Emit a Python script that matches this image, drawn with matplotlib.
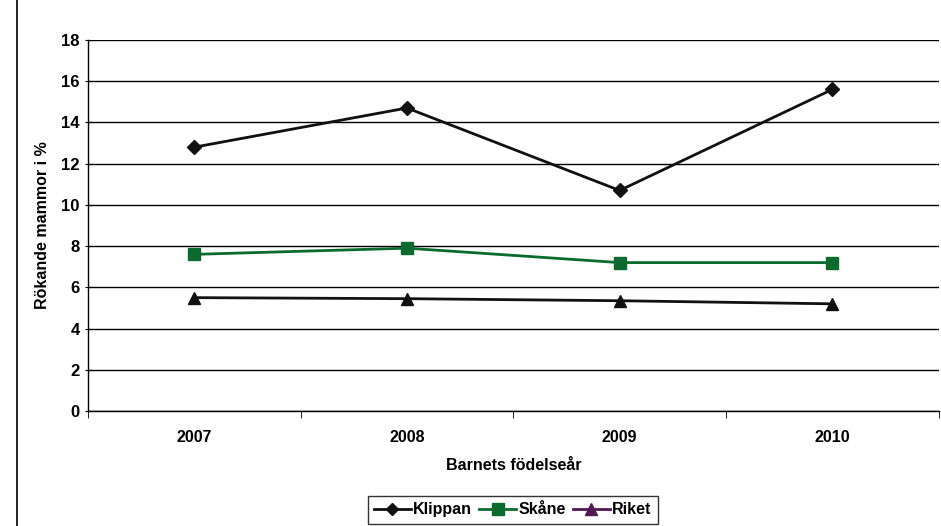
import matplotlib
matplotlib.use('Agg')
import matplotlib.pyplot as plt
from matplotlib.lines import Line2D
from matplotlib.patches import Rectangle

plt.rcParams['font.family'] = ['Liberation Sans', 'DejaVu Sans']
plt.rcParams['font.weight'] = 'bold'

years = ['2007', '2008', '2009', '2010']
klippan = [12.8, 14.7, 10.7, 15.6]
skane = [7.6, 7.9, 7.2, 7.2]
riket = [5.5, 5.45, 5.35, 5.2]

fig = plt.figure(figsize=(9.41, 5.26), dpi=100)
ax = fig.add_axes([0.0935, 0.2186, 0.904, 0.7054])

x = list(range(len(years)))
ax.plot(x, klippan, color='#111111', lw=2, marker='D', ms=7, zorder=3)
ax.plot(x, skane, color='#0b6b2e', lw=2, marker='s', ms=9, zorder=3)
ax.plot(x, riket, color='#111111', lw=2, marker='^', ms=9, zorder=3)

ax.set_xlim(-0.5, 3.5)
ax.set_ylim(0, 18)
ax.set_yticks(range(0, 19, 2))
ax.set_xticks(x)
ax.set_xticklabels(years)
ax.set_xticks([i + 0.5 for i in range(-1, 4)], minor=True)
ax.tick_params(axis='x', which='major', length=0, pad=14, labelsize=11.5)
ax.tick_params(axis='x', which='minor', length=5, direction='out', color='black')
ax.tick_params(axis='y', length=5, direction='inout', labelsize=12)
ax.grid(axis='y', color='black', lw=1)
ax.set_axisbelow(True)
for s in ['top', 'right']:
    ax.spines[s].set_visible(False)
ax.spines['left'].set_linewidth(1)
ax.spines['bottom'].set_linewidth(1)

ax.set_xlabel('Barnets födelseår', fontsize=11.5, fontweight='bold', labelpad=9)
ax.set_ylabel('Rökande mammor i %', fontsize=11.5, fontweight='bold', labelpad=8)

handles = [
    Line2D([0], [0], color='#111111', lw=2, marker='D', ms=6, label='Klippan'),
    Line2D([0], [0], color='#0b6b2e', lw=2, marker='s', ms=8, label='Skåne'),
    Line2D([0], [0], color='#4f1a52', lw=2, marker='^', ms=8, label='Riket'),
]
leg = fig.legend(handles=handles, loc='upper center', ncol=3,
                 frameon=True, fancybox=False, edgecolor='black', fontsize=11.5,
                 handlelength=2.3, handletextpad=0.15, columnspacing=0.45,
                 borderpad=0.4, borderaxespad=0)
leg.set_bbox_to_anchor((0.545, 1 - 496 / 526), transform=fig.transFigure)
leg.get_frame().set_linewidth(1)

# outer chart frame
fig.patches.append(Rectangle((17 / 941, -0.01), 1.0, 1.03, transform=fig.transFigure,
                             fill=False, edgecolor='black', lw=1.2))

fig.savefig('out.png', dpi=100)
